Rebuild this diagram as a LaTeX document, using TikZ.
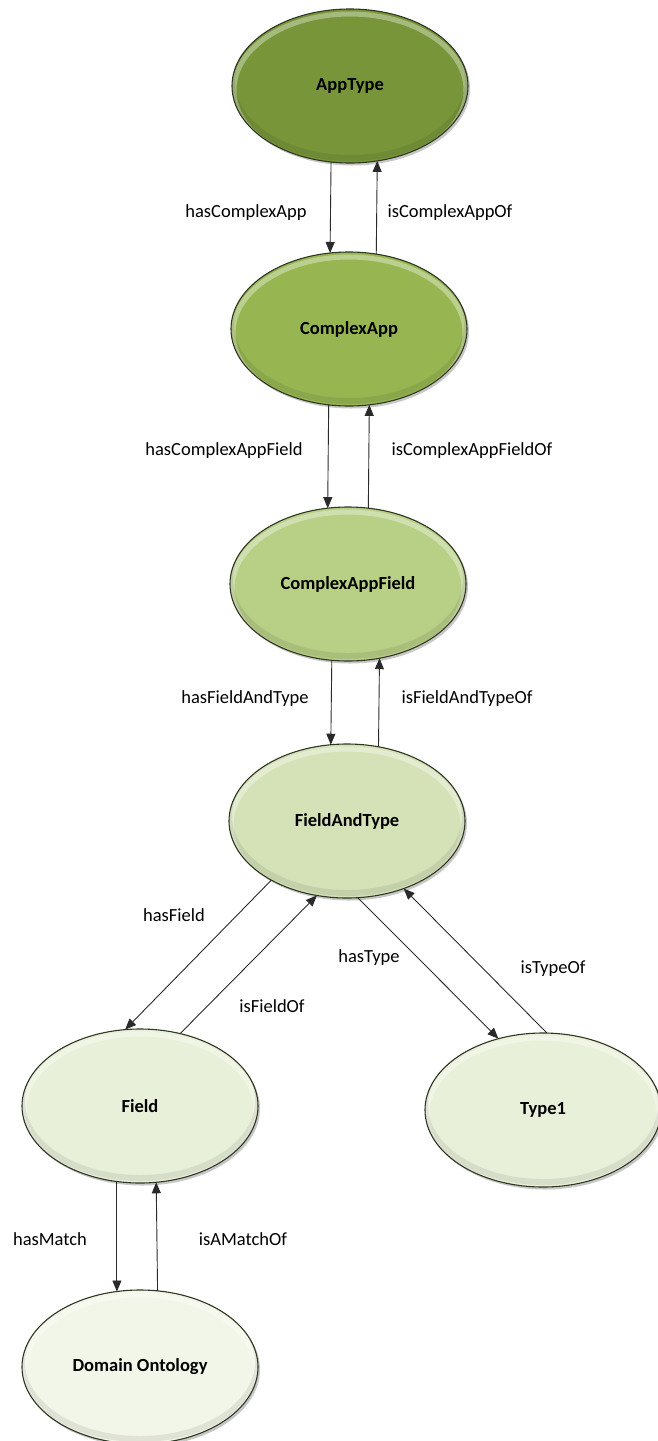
\documentclass[tikz,border=0pt]{standalone}
\usepackage{fontspec}
\setmainfont{Carlito}
\usetikzlibrary{shapes.geometric,arrows.meta,shadows}

\definecolor{lvA}{HTML}{789639}
\definecolor{lvB}{HTML}{97B652}
\definecolor{lvC}{HTML}{B8CF86}
\definecolor{lvD}{HTML}{D5E2B8}
\definecolor{lvE}{HTML}{E9F0DA}
\definecolor{lvF}{HTML}{F2F6E8}
\definecolor{rim}{HTML}{2E3622}
\definecolor{wire}{HTML}{2A2A2A}

\tikzset{
  concept/.style={ellipse, minimum width=236pt, minimum height=154pt,
    inner sep=0pt, outer sep=0pt, draw=rim, line width=1.1pt,
    font=\fontsize{18.5}{22}\selectfont\bfseries,
    drop shadow={shadow xshift=2pt, shadow yshift=-2.5pt, opacity=0.22, fill=black},
    path picture={
      \draw[white, opacity=0.35, line width=5pt]
        ([yshift=-4pt]path picture bounding box.center) ellipse (116pt and 76pt);
      \draw[black, opacity=0.08, line width=6pt]
        ([yshift=5pt]path picture bounding box.center) ellipse (118pt and 77pt);
    }},
  rel/.style={draw=wire, line width=0.9pt,
    -{Triangle[length=11pt,width=9pt]}},
  tag/.style={font=\fontsize{18.5}{22}\selectfont, inner sep=0pt}
}

\begin{document}
\begin{tikzpicture}[x=1pt, y=-1pt]
  \useasboundingbox (0,0) rectangle (657,1441);

  % class nodes, darkest at the root
  \node[concept, fill=lvA] (apptype) at (350,86)   {AppType};
  \node[concept, fill=lvB] (capp)    at (349,329)  {ComplexApp};
  \node[concept, fill=lvC] (cfield)  at (348,584)  {ComplexAppField};
  \node[concept, fill=lvD] (ftype)   at (347,821)  {FieldAndType};
  \node[concept, fill=lvE] (field)   at (140,1106) {Field};
  \node[concept, fill=lvE] (typeone) at (543,1110) {Type1};
  \node[concept, fill=lvF] (domain)  at (140,1367) {Domain Ontology};

  % property pairs
  \draw[rel] (apptype.256) -- (capp.104);
  \draw[rel] (capp.70) -- (apptype.290);

  \draw[rel] (capp.255) -- (cfield.105);
  \draw[rel] (cfield.75) -- (capp.285);

  \draw[rel] (cfield.258) -- (ftype.102);
  \draw[rel] (ftype.67) -- (cfield.293);

  \draw[rel] (ftype.218) -- (field.101.6);
  \draw[rel] (field.61.6) -- (ftype.248.5);

  \draw[rel] (ftype.278.9) -- (typeone.122.7);
  \draw[rel] (typeone.87) -- (ftype.310.4);

  \draw[rel] (field.253) -- (domain.107);
  \draw[rel] (domain.77.4) -- (field.282.6);

  % property names
  \node[tag] (l1)  at (246,213)   {hasComplexApp};
  \node[tag] (l2)  at (450,213)   {isComplexAppOf};
  \node[tag] (l3)  at (224,451)   {hasComplexAppField};
  \node[tag] (l4)  at (472,451)   {isComplexAppFieldOf};
  \node[tag] (l5)  at (245,699)   {hasFieldAndType};
  \node[tag] (l6)  at (467,699)   {isFieldAndTypeOf};
  \node[tag] (l7)  at (174,915)   {hasField};
  \node[tag] (l8)  at (272,1006)  {isFieldOf};
  \node[tag] (l9)  at (369,958)   {hasType};
  \node[tag] (l10) at (553,969)   {isTypeOf};
  \node[tag] (l11) at (50,1239)   {hasMatch};
  \node[tag] (l12) at (243,1239)  {isAMatchOf};
\end{tikzpicture}
\end{document}
